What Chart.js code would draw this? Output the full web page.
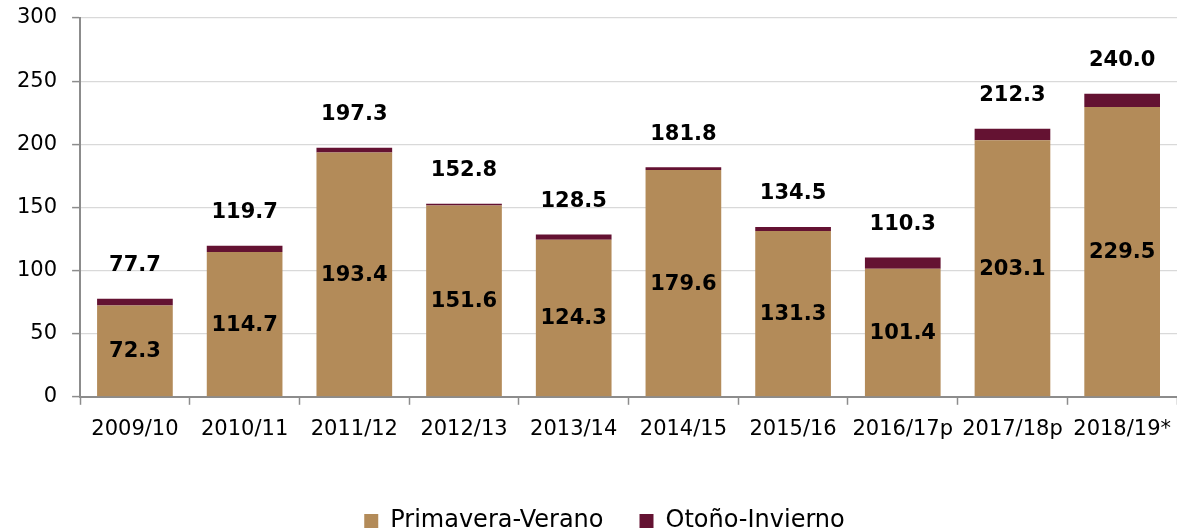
<!DOCTYPE html>
<html>
<head>
<meta charset="utf-8">
<script src="https://cdn.jsdelivr.net/npm/chart.js@4.4.0/dist/chart.umd.min.js"></script>
<style>
html,body{margin:0;padding:0;background:#fff;overflow:hidden;}
#wrap{position:relative;width:1177px;height:543px;}
</style>
</head>
<body>
<div id="wrap"><canvas id="c"></canvas></div>
<script>
const categories = ["2009/10","2010/11","2011/12","2012/13","2013/14","2014/15","2015/16","2016/17p","2017/18p","2018/19*"];
const primaveraVerano = [72.3,114.7,193.4,151.6,124.3,179.6,131.3,101.4,203.1,229.5];
const totals = [77.7,119.7,197.3,152.8,128.5,181.8,134.5,110.3,212.3,240.0];
const otonoInvierno = [5.4,5.0,3.9,1.2,4.2,2.2,3.2,8.9,9.2,10.5];
const yTicks = [0,50,100,150,200,250,300];

const FONT = "'DejaVu Sans', sans-serif";

const labelPlugin = {
  id: 'barLabels',
  afterLayout(chart) {
    if (chart.legend) { chart.legend.left += 15; chart.legend.right += 15; }
  },
  afterDatasetsDraw(chart) {
    const ctx = chart.ctx;
    const m0 = chart.getDatasetMeta(0);
    const m1 = chart.getDatasetMeta(1);
    ctx.save();
    ctx.font = "bold 21px " + FONT;
    ctx.fillStyle = '#000';
    ctx.textAlign = 'center';
    ctx.textBaseline = 'middle';
    m0.data.forEach((bar, i) => {
      const yc = (bar.y + bar.base) / 2;
      ctx.fillText(primaveraVerano[i].toFixed(1), bar.x, yc + 1);
      const top = m1.data[i].y;
      ctx.fillText(totals[i].toFixed(1), bar.x, top - 33);
    });
    ctx.restore();
  }
};

new Chart(document.getElementById('c'), {
  type: 'bar',
  data: {
    labels: categories,
    datasets: [
      {label: 'Primavera-Verano', data: primaveraVerano, backgroundColor: '#b38b59', barPercentage: 0.69, categoryPercentage: 1.0},
      {label: 'Otoño-Invierno', data: otonoInvierno, backgroundColor: '#641232', barPercentage: 0.69, categoryPercentage: 1.0}
    ]
  },
  options: {
    responsive: true,
    maintainAspectRatio: false,
    animation: false,
    layout: {padding: {left: 2, right: 0, top: 18, bottom: 0}},
    plugins: {
      tooltip: {enabled: false},
      legend: {
        position: 'bottom',
        labels: {
          font: {family: FONT, size: 24},
          color: '#000',
          boxWidth: 14,
          boxHeight: 14,
          padding: 36
        }
      }
    },
    scales: {
      x: {
        stacked: true,
        afterFit: (scale) => { scale.height += 19; scale.paddingRight = 0; scale.paddingLeft = 0; },
        grid: {display: true, drawOnChartArea: false, offset: true, tickLength: 8, color: '#8c8c8c', tickWidth: 1.5},
        border: {display: true, color: '#8c8c8c', width: 2},
        ticks: {font: {family: FONT, size: 21}, color: '#000', padding: 12, maxRotation: 0, autoSkip: false}
      },
      y: {
        stacked: true,
        min: 0, max: 300,
        afterBuildTicks: (scale) => { scale.ticks = yTicks.map(v => ({value: v})); },
        afterFit: (scale) => { scale.paddingTop = 0; scale.paddingBottom = 0; },
        grid: {color: '#d9d9d9', lineWidth: 1.2, tickLength: 8, tickColor: '#8c8c8c', tickWidth: 1.5},
        border: {display: true, color: '#8c8c8c', width: 2},
        ticks: {font: {family: FONT, size: 21}, color: '#000', padding: 15}
      }
    }
  },
  plugins: [labelPlugin]
});
</script>
</body>
</html>
